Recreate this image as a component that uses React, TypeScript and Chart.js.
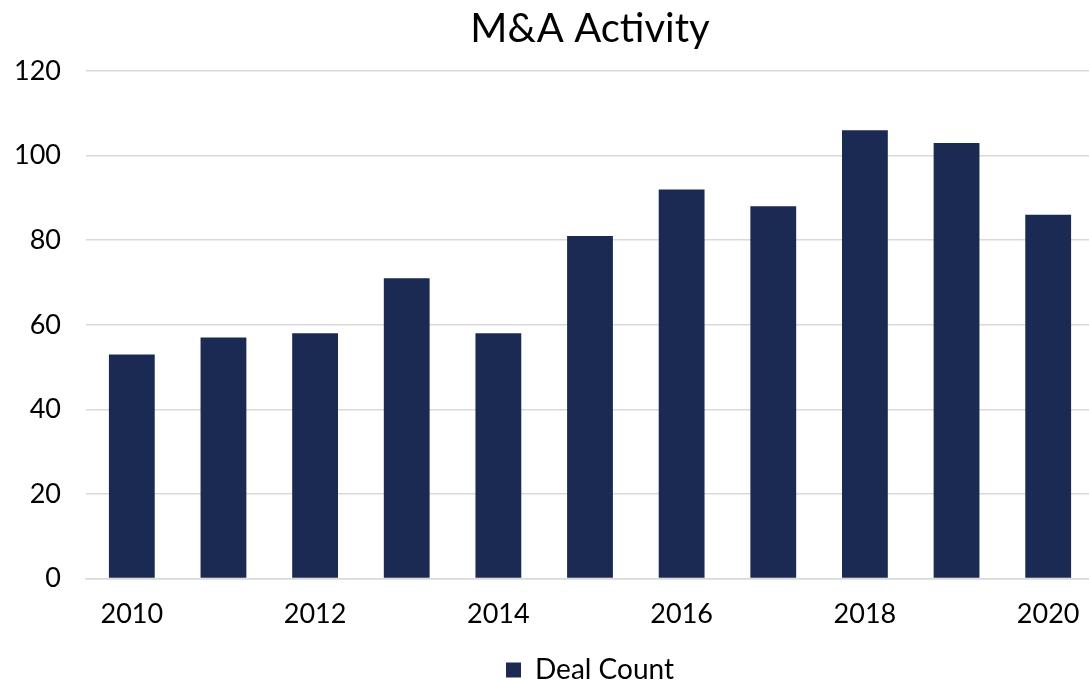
import React, { useEffect, useRef } from "react";
import { Chart, registerables } from "chart.js";

Chart.register(...registerables);

const years: string[] = ["2010", "2011", "2012", "2013", "2014", "2015", "2016", "2017", "2018", "2019", "2020"];
const dealCount: number[] = [53, 57, 58, 71, 58, 81, 92, 88, 106, 103, 86];
const yTicks: number[] = [0, 20, 40, 60, 80, 100, 120];

const FONT = "Lato, 'Open Sans', sans-serif";

export default function App() {
  const ref = useRef<HTMLCanvasElement | null>(null);

  useEffect(() => {
    document.body.style.margin = "0";
    document.body.style.overflow = "hidden";
    const canvas = ref.current;
    if (!canvas) return;
    const chart = new Chart(canvas, {
      type: "bar",
      data: {
        labels: years,
        datasets: [
          {
            label: "Deal Count",
            data: dealCount,
            backgroundColor: "#1a2a52",
            borderWidth: 0,
            barPercentage: 0.5,
            categoryPercentage: 1,
          },
        ],
      },
      options: {
        animation: false,
        responsive: false,
        maintainAspectRatio: false,
        layout: { padding: { left: 0, right: 6, top: 0, bottom: 0 } },
        plugins: {
          title: {
            display: true,
            fullSize: false,
            text: "M&A Activity",
            color: "#000",
            font: { family: FONT, size: 40, weight: "normal" },
            padding: { top: 5, bottom: 18 },
          },
          legend: {
            display: true,
            fullSize: false,
            position: "bottom",
            labels: {
              boxWidth: 15,
              boxHeight: 15,
              padding: 7,
              color: "#000",
              font: { family: FONT, size: 28, lineHeight: 1 },
            },
          },
          tooltip: { enabled: false },
        },
        scales: {
          x: {
            grid: { display: false, drawTicks: false },
            border: { display: true, color: "#d9d9d9", width: 1.5 },
            ticks: {
              autoSkip: false,
              maxRotation: 0,
              padding: 19,
              color: "#000",
              font: { family: FONT, size: 27 },
              callback: (_v: any, i: number) => (i % 2 === 0 ? years[i] : ""),
            },
          },
          y: {
            min: 0,
            max: 120,
            afterFit: (s: any) => {
              s.width = 86;
            },
            afterBuildTicks: (s: any) => {
              s.ticks = yTicks.map((v) => ({ value: v }));
            },
            grid: { color: "#d9d9d9", lineWidth: 1.5, drawTicks: false },
            border: { display: false },
            ticks: {
              padding: 25,
              color: "#000",
              font: { family: FONT, size: 27 },
            },
          },
        },
      },
    });
    return () => chart.destroy();
  }, []);

  return (
    <div style={{ position: "fixed", left: 0, top: 0, width: 1089, height: 680, overflow: "hidden", background: "#fff" }}>
      <canvas ref={ref} width={1100} height={694} style={{ width: 1100, height: 694, display: "block" }} />
    </div>
  );
}
